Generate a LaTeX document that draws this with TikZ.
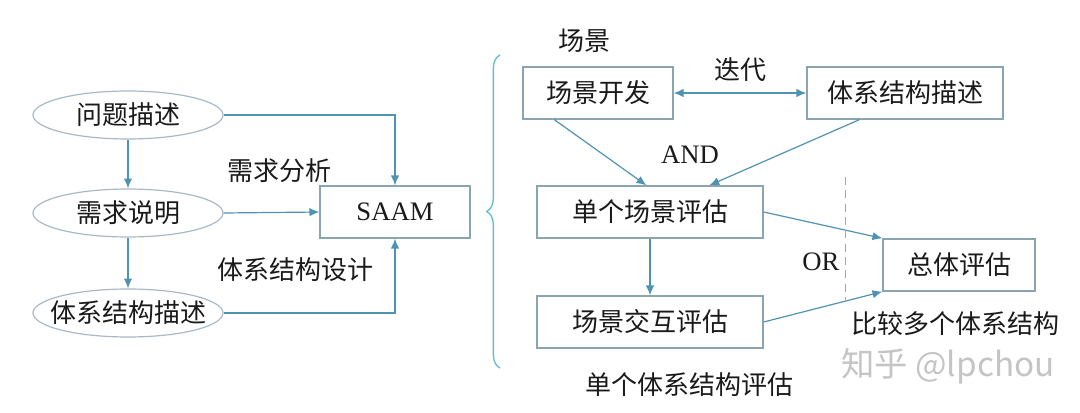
\documentclass[tikz,border=0pt]{standalone}
\usepackage{fontspec}
\setmainfont{Liberation Serif}
\newfontfamily\cjk{Noto Sans CJK SC}
\usepackage{tikz}
\usetikzlibrary{arrows.meta,calc,shapes.geometric,decorations.pathreplacing}
\definecolor{ink}{HTML}{1A1A1A}
\definecolor{frame}{HTML}{8AA4B0}
\definecolor{ovalgray}{HTML}{A9B9C4}
\definecolor{flowblue}{HTML}{4F93B3}
\definecolor{bracecyan}{HTML}{62BCD2}
\definecolor{wmgray}{HTML}{C4C4C4}
\tikzset{
  >={Latex[length=2.6mm,width=2.2mm]},
  flow/.style={->,line width=.9pt,draw=flowblue},
  sep/.style={draw=gray!70,line width=.7pt,dash pattern=on 6pt off 4pt},
  bracket/.style={draw=bracecyan,line width=1pt,decorate,decoration={brace,amplitude=10pt}},
  cntext/.style={font=\cjk\fontsize{19.5}{22}\selectfont,text=ink,inner sep=0pt},
  latin/.style={font=\fontsize{20}{24}\selectfont,text=ink,inner sep=0pt},
  box/.style={cntext,draw=frame,line width=1pt,minimum height=39pt},
  oval/.style={cntext,ellipse,draw=ovalgray,line width=.9pt,minimum width=142.5pt,minimum height=36pt},
  wm/.style={font=\cjk\fontsize{25}{28}\selectfont,text=wmgray,inner sep=0pt}
}
\begin{document}
\begin{tikzpicture}[x=.75pt,y=-.75pt]
  \useasboundingbox (0,0) rectangle (1080,413);
  \node[oval] (prob) at (128,115) {\makebox[0pt]{问题描述}};
  \node[oval] (req) at (128,213) {\makebox[0pt]{需求说明}};
  \node[oval] (archd) at (128,313) {\makebox[0pt]{体系结构描述}};
  \node[box,latin,minimum width=112.5pt] (saam) at (395,212) {SAAM};
  \node[cntext] (reqa) at (279,171) {需求分析};
  \node[cntext] (archdes) at (295,270) {体系结构设计};
  \draw[flow] (prob) -- (req); \draw[flow] (req) -- (archd);
  \draw[flow] (prob.east) -| (saam.north); \draw[flow] (req.east) -- (saam.west); \draw[flow] (archd.east) -| (saam.south);
  \node[cntext] (scen) at (584,41) {场景};
  \node[box,minimum width=112.5pt] (sdev) at (598,93) {场景开发};
  \node[box,minimum width=147pt] (adesc) at (905,93) {体系结构描述};
  \node[cntext] (iter) at (740,70) {迭代};
  \node[latin] (and) at (690,155) {AND};
  \node[box,minimum width=169.5pt] (single) at (650,212) {单个场景评估};
  \node[box,minimum width=169.5pt] (inter) at (650,322) {场景交互评估};
  \node[box,minimum width=114pt] (total) at (959,265) {总体评估};
  \node[latin] (or) at (821,262) {OR};
  \node[cntext] (cmp) at (955,324) {比较多个体系结构};
  \node[cntext] (one) at (689,385) {单个体系结构评估};
  \node[wm] (wmark) at (948,366) {知乎 @lpchou};
  \draw[flow,<->] (sdev) -- (adesc);
  \draw[flow] ($(sdev.south west)+(32,0)$) -- ($(single.north west)+(110,0)$);
  \draw[flow] ($(adesc.south west)+(53,0)$) -- ($(single.north west)+(173,0)$);
  \draw[flow] (single) -- (inter);
  \draw[flow] (single.east) -- (total.north west); \draw[flow] (inter.east) -- (total.south west);
  \draw[sep] (845,177) -- (845,300);
  \draw[bracket] (500,368) -- (500,55);
\end{tikzpicture}
\end{document}
